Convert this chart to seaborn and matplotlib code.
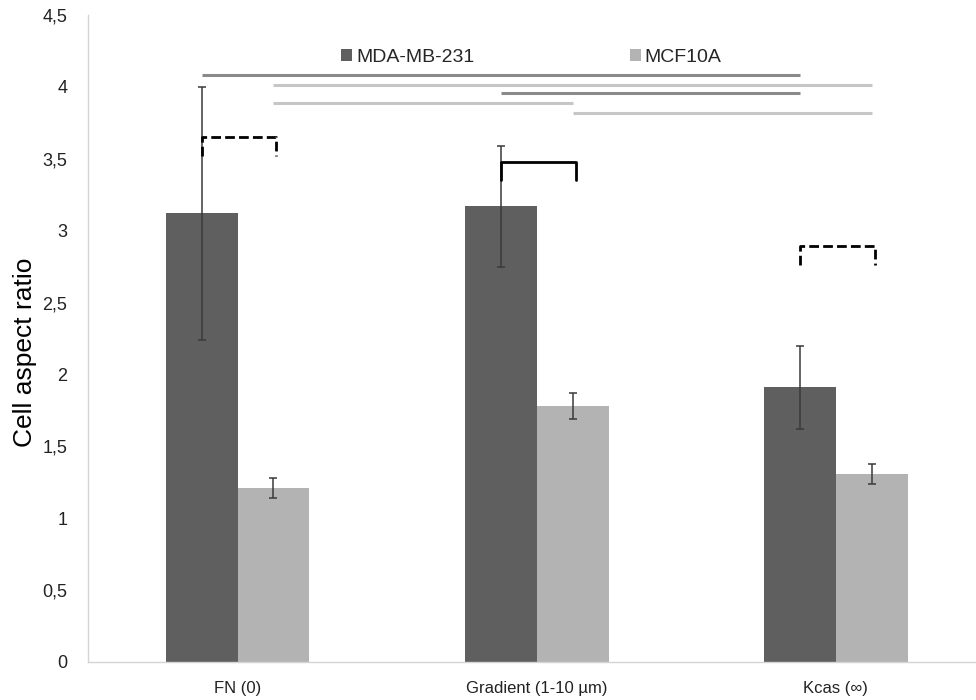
# Cell aspect ratio per substrate - MDA-MB-231 vs MCF10A
import pandas as pd
import matplotlib
matplotlib.use("Agg")
import matplotlib.pyplot as plt
import seaborn as sns

# values
substrates = ["FN (0)", "Gradient (1-10 µm)", "Kcas (∞)"]
cell_lines = ["MDA-MB-231", "MCF10A"]
mda_mean = [3.12, 3.17, 1.91]
mda_err = [0.88, 0.42, 0.29]
mcf_mean = [1.21, 1.78, 1.31]
mcf_err = [0.07, 0.09, 0.07]

# significance lines: (cell line, from substrate, to substrate, height)
sig_lines = [
    (0, 0, 2, 4.08),
    (1, 0, 2, 4.01),
    (0, 1, 2, 3.96),
    (1, 0, 1, 3.89),
    (1, 1, 2, 3.82),
]
# brackets between the two lines per substrate: (substrate, top, leg bottom, dashed)
brackets = [
    (0, 3.65, 3.52, True),
    (1, 3.48, 3.35, False),
    (2, 2.89, 2.76, True),
]

df = pd.DataFrame({
    "Substrate": substrates * 2,
    "Cell line": [cell_lines[0]] * 3 + [cell_lines[1]] * 3,
    "Ratio": mda_mean + mcf_mean,
})

sns.set_style("white")
plt.rcParams["font.family"] = ["Liberation Sans", "DejaVu Sans"]

fig = plt.figure(figsize=(9.76, 7), dpi=100)
ax = fig.add_axes([88 / 976, 38 / 700, 897.5 / 976, 647 / 700])

sns.barplot(data=df, x="Substrate", y="Ratio", hue="Cell line",
            order=substrates, hue_order=cell_lines,
            palette=["#5f5f5f", "#b3b3b3"], width=0.48, errorbar=None,
            saturation=1, edgecolor="none", ax=ax)

# error bars at bar centres
centres = []
for cont, errs in zip(ax.containers, [mda_err, mcf_err]):
    xs = [p.get_x() + p.get_width() / 2 for p in cont]
    ys = [p.get_height() for p in cont]
    centres.append(xs)
    ax.errorbar(xs, ys, yerr=errs, fmt="none", ecolor="#3a3a3a",
                elinewidth=1.1, capsize=3, capthick=1.1, zorder=3)

line_cols = ["#8a8a8a", "#c6c6c6"]
for line, a, b, h in sig_lines:
    ax.plot([centres[line][a], centres[line][b]], [h, h],
            color=line_cols[line], lw=2.2, solid_capstyle="butt", zorder=2)

for i, top, leg, dashed in brackets:
    x0, x1 = centres[0][i], centres[1][i] + 0.01
    ax.plot([x0, x0, x1, x1], [leg, top, top, leg], color="black", lw=2,
            linestyle=(0, (3.5, 1.5)) if dashed else "-",
            solid_joinstyle="round", dash_joinstyle="round", zorder=4)

ax.set_xlim(-0.5, 2.5)
ax.set_ylim(0, 4.5)
ax.set_yticks([0, 0.5, 1, 1.5, 2, 2.5, 3, 3.5, 4, 4.5])
ax.set_yticklabels([f"{v:g}".replace(".", ",") for v in ax.get_yticks()])
ax.set_xlabel("")
ax.set_ylabel("Cell aspect ratio", fontsize=19, color="black")
ax.yaxis.set_label_coords(-0.057, 0.478)

# category boundary ticks on the x axis
ax.set_xticks([-0.5, 0.5, 1.5], minor=True)
ax.tick_params(axis="x", which="major", length=0, labelsize=12,
               labelcolor="#222222", pad=14)
ax.tick_params(axis="x", which="minor", length=6, color="#d4d4d4", width=1)
ax.tick_params(axis="y", length=6, color="#d4d4d4", width=1,
               labelsize=13, labelcolor="#222222", pad=9)

for s in ["top", "right"]:
    ax.spines[s].set_visible(False)
for s in ["left", "bottom"]:
    ax.spines[s].set_color("#d4d4d4")
    ax.spines[s].set_linewidth(1)

handles, labels = ax.get_legend_handles_labels()
ax.legend(handles, labels, loc="center", bbox_to_anchor=(0.494, 0.935),
          ncol=2, frameon=False, fontsize=14, handlelength=0.55,
          handleheight=0.55, handletextpad=0.2, columnspacing=8.0)

fig.savefig("out.png", dpi=100)
